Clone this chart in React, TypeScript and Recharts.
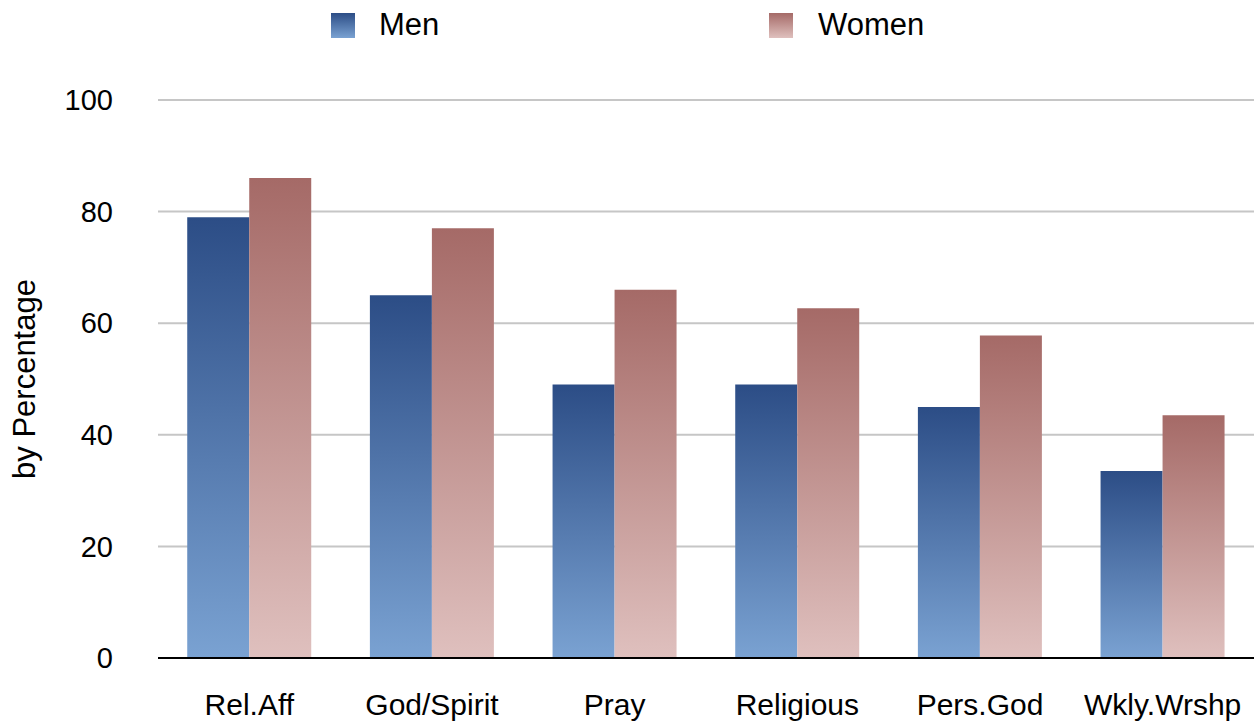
import React from "react";
import {
  BarChart,
  Bar,
  XAxis,
  YAxis,
  CartesianGrid,
  Legend,
} from "recharts";

const categories = ["Rel.Aff", "God/Spirit", "Pray", "Religious", "Pers.God", "Wkly.Wrshp"];
const menValues = [79, 65, 49, 49, 45, 33.5];
const womenValues = [86, 77, 66, 62.7, 57.8, 43.5];
const yTicks = [0, 20, 40, 60, 80, 100];

const data = categories.map((name, i) => ({
  name,
  men: menValues[i],
  women: womenValues[i],
}));

const FONT = '"Liberation Sans", Arial, Helvetica, sans-serif';

// legend drawn by hand so the two entries sit where the original puts them
const LegendContent = () => (
  <div style={{ position: "relative", width: 1254, height: 50, fontFamily: FONT }}>
    <svg width={1254} height={50} style={{ position: "absolute", left: 0, top: 0 }}>
      <rect x={331} y={13} width={24} height={25} fill="url(#menGrad)" />
      <text x={379} y={35} fontSize={31} fill="#000">Men</text>
      <rect x={769} y={13} width={24} height={25} fill="url(#womenGrad)" />
      <text x={818} y={35} fontSize={31} fill="#000">Women</text>
    </svg>
  </div>
);

export default function App() {
  return (
    <div style={{ position: "absolute", left: 0, top: 0, background: "#fff" }}>
      <BarChart
        width={1254}
        height={721}
        data={data}
        margin={{ top: 50, right: 0, bottom: 0, left: 0 }}
        barCategoryGap="16%"
        barGap={0}
        style={{ fontFamily: FONT }}
      >
        <defs>
          <linearGradient id="menGrad" x1="0" y1="0" x2="0" y2="1">
            <stop offset="0%" stopColor="#2c4d86" />
            <stop offset="100%" stopColor="#7aa2d2" />
          </linearGradient>
          <linearGradient id="womenGrad" x1="0" y1="0" x2="0" y2="1">
            <stop offset="0%" stopColor="#a56a67" />
            <stop offset="100%" stopColor="#dfc0be" />
          </linearGradient>
        </defs>
        <Legend
          verticalAlign="top"
          align="left"
          height={50}
          content={<LegendContent />}
          wrapperStyle={{ left: 0, top: 0, width: 1254 }}
        />
        <CartesianGrid vertical={false} stroke="#c6c6c6" strokeWidth={2} />
        <XAxis
          dataKey="name"
          height={63}
          axisLine={{ stroke: "#000", strokeWidth: 2 }}
          tickLine={false}
          tickMargin={30}
          tick={{ fill: "#000", fontSize: 30 }}
        />
        <YAxis
          width={158}
          domain={[0, 100]}
          ticks={yTicks}
          axisLine={false}
          tickLine={false}
          tickMargin={39}
          tick={{ fill: "#000", fontSize: 29 }}
          label={{
            value: "by Percentage",
            angle: -90,
            position: "insideLeft",
            offset: 24,
            style: { textAnchor: "middle", fill: "#000", fontSize: 31 },
          }}
        />
        <Bar dataKey="men" name="Men" fill="url(#menGrad)" isAnimationActive={false} />
        <Bar dataKey="women" name="Women" fill="url(#womenGrad)" isAnimationActive={false} />
      </BarChart>
    </div>
  );
}
